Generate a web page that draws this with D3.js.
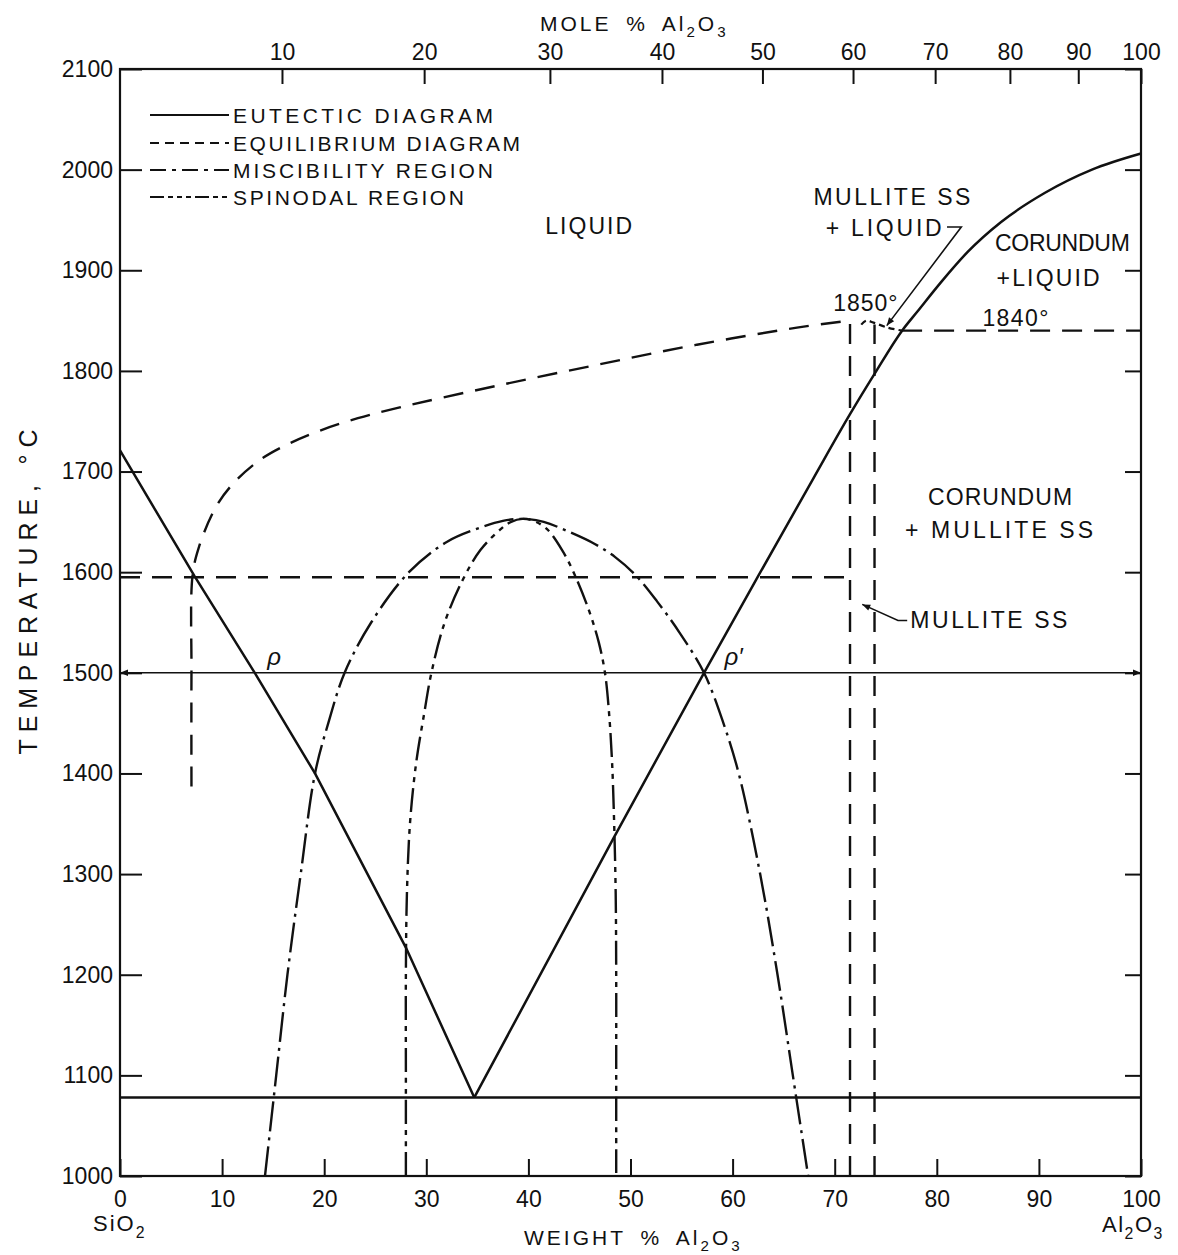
<!DOCTYPE html>
<html>
<head>
<meta charset="utf-8">
<script src="https://cdn.jsdelivr.net/npm/d3@7"></script>
<style>
  body { margin: 0; background: #fff; }
  svg { display: block; font-family: 'Liberation Sans', Arial, sans-serif; }
  text { fill: #111; }
</style>
</head>
<body>
<svg width="1178" height="1255"></svg>
<script>
// ---- Data: weight % Al2O3 vs temperature (deg C) ----

var wtTicks   = [0, 10, 20, 30, 40, 50, 60, 70, 80, 90, 100];
var moleTicks = [10, 20, 30, 40, 50, 60, 70, 80, 90, 100];
var tempTicks = [1000, 1100, 1200, 1300, 1400, 1500, 1600, 1700, 1800, 1900, 2000, 2100];

// eutectic diagram (solid)
var eutecticLeft  = [[0, 1721], [7.3, 1596], [13.2, 1500], [19.1, 1400], [28, 1227], [34.7, 1078]];
var eutecticRight = [[34.7, 1078], [48.3, 1335], [57.2, 1500], [62.5, 1596], [67.9, 1693],
                     [71.5, 1757], [73.9, 1797], [76.6, 1840], [78.1, 1859], [80.4, 1888],
                     [83, 1918], [86.3, 1948], [90.6, 1977], [95.2, 2000], [100, 2016]];
var eutecticTemp  = 1078;
var tieLineTemp   = 1500;

// equilibrium diagram (dashed)
var equilLiquidus = [[7.0, 1387], [7.0, 1500], [7.1, 1596], [7.7, 1624], [9.3, 1663], [10.9, 1686],
                     [13.5, 1710], [16.2, 1726], [19.4, 1740], [23.3, 1753], [27.5, 1764],
                     [36.8, 1785], [46.7, 1806], [56.5, 1826], [66.3, 1843], [71.5, 1850]];
var equilSolidus  = [[0, 1595], [71.5, 1595]];
var mulliteLeft   = [[71.5, 1000], [71.5, 1850]];
var mulliteRight  = [[73.9, 1000], [73.9, 1846]];
var mulliteTop    = [[72.6, 1846], [73.1, 1850], [73.8, 1848], [75.2, 1843], [76.6, 1840]];
var corundumLine  = [[76.6, 1840], [100, 1840]];

// miscibility region (long dash - dot)
var miscibility = [[14.2, 1000], [15.3, 1100], [16.4, 1200], [17.7, 1300], [19.1, 1400], [20.4, 1450],
                   [22.0, 1500], [24.6, 1550], [28.3, 1600], [32.0, 1630], [35.5, 1645], [37.5, 1651],
                   [39.4, 1653], [41.5, 1650], [44.0, 1640], [46.5, 1628], [48.5, 1615], [50.5, 1597],
                   [52.6, 1571], [54.8, 1540], [57.2, 1500], [59.1, 1450], [60.6, 1400], [62.7, 1300],
                   [64.4, 1200], [65.9, 1100], [67.4, 1000]];

// spinodal region (dash - dot - dot)
var spinodal = [[28.0, 1000], [28.0, 1100], [28.0, 1200], [28.1, 1280], [28.4, 1350], [29.0, 1410],
                [29.8, 1460], [30.5, 1500], [31.8, 1550], [33.6, 1593], [35.3, 1622], [37.2, 1642],
                [38.3, 1650], [39.4, 1653], [40.5, 1651], [41.8, 1643], [43.3, 1622], [44.6, 1596],
                [46.0, 1560], [46.9, 1530], [47.5, 1500], [47.9, 1460], [48.2, 1410], [48.4, 1350],
                [48.55, 1280], [48.6, 1200], [48.6, 1100], [48.6, 1000]];

var legendNames = ['EUTECTIC DIAGRAM', 'EQUILIBRIUM DIAGRAM', 'MISCIBILITY REGION', 'SPINODAL REGION'];

// ---- Setup ----

var svg = d3.select('svg');
var MW_AL2O3 = 101.96, MW_SIO2 = 60.08;

function moleToWeight(m) {            // mole % Al2O3 -> weight % Al2O3
  var a = m * MW_AL2O3;
  return 100 * a / (a + (100 - m) * MW_SIO2);
}

var x = d3.scaleLinear().domain([0, 100]).range([120, 1141]);
var y = d3.scaleLinear().domain([1000, 2100]).range([1176, 69]);

function lineGen(curve) {
  return d3.line().x(function (d) { return x(d[0]); }).y(function (d) { return y(d[1]); }).curve(curve);
}
var smooth   = lineGen(d3.curveCatmullRom.alpha(0.5));
var monotone = lineGen(d3.curveMonotoneX);
var straight = lineGen(d3.curveLinear);

var DASH_EQUIL = '20,12';
var DASH_MISC  = '30,6,3,6';
var DASH_SPIN  = '24,6,5,6,5,6';

var defs = svg.append('defs');
defs.append('marker')
  .attr('id', 'arrow')
  .attr('viewBox', '0 0 10 10')
  .attr('refX', 10).attr('refY', 5)
  .attr('markerWidth', 12).attr('markerHeight', 8)
  .attr('markerUnits', 'userSpaceOnUse')
  .attr('orient', 'auto-start-reverse')
  .append('path').attr('d', 'M0,1L10,5L0,9Z').attr('fill', '#111');

// ---- Axes ----

function styleAxis(g) {
  g.select('.domain').remove();
  g.selectAll('.tick line').attr('stroke', '#111').attr('stroke-width', 2);
  g.selectAll('.tick text').attr('fill', '#111').attr('font-size', 23)
    .attr('font-family', "'Liberation Sans', Arial, sans-serif");
}

svg.append('g')
  .attr('transform', 'translate(' + x(0) + ',0)')
  .call(d3.axisLeft(y).tickValues(tempTicks).tickSize(-22).tickPadding(7).tickFormat(d3.format('d')))
  .call(styleAxis);

svg.append('g')
  .attr('transform', 'translate(' + x(100) + ',0)')
  .call(d3.axisRight(y).tickValues(tempTicks).tickSize(-16).tickFormat(''))
  .call(styleAxis);

svg.append('g')
  .attr('transform', 'translate(0,' + y(1000) + ')')
  .call(d3.axisBottom(x).tickValues(wtTicks).tickSize(-17).tickPadding(15).tickFormat(d3.format('d')))
  .call(styleAxis);

svg.append('g')
  .attr('transform', 'translate(0,' + y(2100) + ')')
  .call(d3.axisTop(x).tickValues(moleTicks.map(moleToWeight)).tickSize(-15).tickPadding(9)
    .tickFormat(function (d, i) { return moleTicks[i]; }))
  .call(styleAxis);

// frame
svg.append('rect')
  .attr('x', x(0)).attr('y', y(2100))
  .attr('width', x(100) - x(0)).attr('height', y(1000) - y(2100))
  .attr('fill', 'none').attr('stroke', '#111').attr('stroke-width', 2.2);

// ---- Curves ----

var plot = svg.append('g').attr('fill', 'none').attr('stroke', '#111');

// eutectic
plot.append('path').datum(eutecticLeft).attr('d', straight).attr('stroke-width', 2.5);
plot.append('path').datum(eutecticRight).attr('d', monotone).attr('stroke-width', 2.5);
plot.append('path').datum([[0, eutecticTemp], [100, eutecticTemp]]).attr('d', straight).attr('stroke-width', 2.5);

// 1500 deg tie line with arrows
plot.append('path').datum([[0, tieLineTemp], [100, tieLineTemp]]).attr('d', straight)
  .attr('stroke-width', 1.6)
  .attr('marker-start', 'url(#arrow)').attr('marker-end', 'url(#arrow)');

// equilibrium
plot.append('path').datum(equilLiquidus).attr('d', smooth)
  .attr('stroke-width', 2.4).attr('stroke-dasharray', DASH_EQUIL);
[equilSolidus, mulliteLeft, mulliteRight, corundumLine].forEach(function (s) {
  plot.append('path').datum(s).attr('d', straight)
    .attr('stroke-width', 2.4).attr('stroke-dasharray', DASH_EQUIL);
});
plot.append('path').datum(mulliteTop).attr('d', smooth)
  .attr('stroke-width', 2.2).attr('stroke-dasharray', '6,4');

// miscibility and spinodal
plot.append('path').datum(miscibility).attr('d', smooth)
  .attr('stroke-width', 2.4).attr('stroke-dasharray', DASH_MISC);
plot.append('path').datum(spinodal).attr('d', smooth)
  .attr('stroke-width', 2.4).attr('stroke-dasharray', DASH_SPIN);

// ---- Legend ----

var legendDash = [null, '9,6', '16,6,4,6', '14,4,5,4,5,4,5,4'];
var legend = svg.append('g').attr('transform', 'translate(150,0)');
legendNames.forEach(function (name, i) {
  var rowY = [115, 143, 170, 197][i];
  legend.append('line')
    .attr('x1', 0).attr('x2', 79).attr('y1', rowY).attr('y2', rowY)
    .attr('stroke', '#111').attr('stroke-width', 2)
    .attr('stroke-dasharray', legendDash[i]);
  legend.append('text')
    .attr('x', 83).attr('y', rowY + 8)
    .attr('font-size', 21)
    .attr('textLength', [260, 287, 260, 231][i]).attr('lengthAdjust', 'spacing')
    .text(name);
});

// ---- Labels ----

function place(wt, t) { return 'translate(' + x(wt) + ',' + y(t) + ')'; }

var regionLabels = [
  { text: 'LIQUID',       wt: 45.9, t: 1936, len: 87 },
  { text: 'MULLITE SS',   wt: 75.6, t: 1965, len: 157 },
  { text: '+ LIQUID',     wt: 74.8, t: 1934, len: 116 },
  { text: 'CORUNDUM',     wt: 92.3, t: 1919, len: 135 },
  { text: '+LIQUID',      wt: 90.9, t: 1884, len: 103 },
  { text: '1850°',        wt: 73.0, t: 1860, len: 64 },
  { text: '1840°',        wt: 87.7, t: 1845, len: 66 },
  { text: 'CORUNDUM',     wt: 86.2, t: 1667, len: 144 },
  { text: '+ MULLITE SS', wt: 86.1, t: 1634, len: 188 },
  { text: 'MULLITE SS',   wt: 85.1, t: 1545, len: 157 }
];

svg.selectAll('text.region')
  .data(regionLabels)
  .enter().append('text')
  .attr('class', 'region')
  .attr('transform', function (d) { return place(d.wt, d.t); })
  .attr('text-anchor', 'middle')
  .attr('font-size', 23)
  .attr('textLength', function (d) { return d.len; })
  .attr('lengthAdjust', 'spacing')
  .text(function (d) { return d.text; });

// p and p' markers on the tie line
[['ρ', 15.1, 1508], ['ρ\u2032', 60.1, 1508]].forEach(function (p) {
  svg.append('text').attr('transform', place(p[1], p[2]))
    .attr('text-anchor', 'middle').attr('font-size', 24).attr('font-style', 'italic')
    .text(p[0]);
});

// leader arrows
plot.append('path')
  .datum([[81.0, 1943], [82.4, 1943], [75.1, 1845]])
  .attr('d', straight).attr('stroke-width', 1.6).attr('marker-end', 'url(#arrow)');
plot.append('path')
  .datum([[77.1, 1552], [76.2, 1552], [72.7, 1568]])
  .attr('d', straight).attr('stroke-width', 1.6).attr('marker-end', 'url(#arrow)');

// chemical formula helper (digits become subscripts)
function formula(sel, parts, size) {
  var shift = 0;
  parts.forEach(function (p) {
    var sub = /^[0-9]$/.test(p);
    var target = sub ? size * 0.3 : 0;
    sel.append('tspan')
      .attr('font-size', sub ? size * 0.72 : size)
      .attr('dy', target - shift)
      .text(p);
    shift = target;
  });
}

var moleTitle = svg.append('text').attr('x', 540).attr('y', 31)
  .attr('letter-spacing', 3).attr('word-spacing', 6);
formula(moleTitle, ['MOLE % Al', '2', 'O', '3'], 21);

var wtTitle = svg.append('text').attr('x', 524).attr('y', 1245)
  .attr('letter-spacing', 3).attr('word-spacing', 6);
formula(wtTitle, ['WEIGHT % Al', '2', 'O', '3'], 21);

var sio2 = svg.append('text').attr('x', 93).attr('y', 1231).attr('letter-spacing', 2);
formula(sio2, ['SiO', '2'], 22);

var al2o3 = svg.append('text').attr('x', 1102).attr('y', 1232).attr('letter-spacing', 1.5);
formula(al2o3, ['Al', '2', 'O', '3'], 22);

svg.append('text')
  .attr('transform', 'translate(37,592) rotate(-90)')
  .attr('text-anchor', 'middle')
  .attr('font-size', 25)
  .attr('textLength', 325).attr('lengthAdjust', 'spacing')
  .text('TEMPERATURE, °C');
</script>
</body>
</html>
